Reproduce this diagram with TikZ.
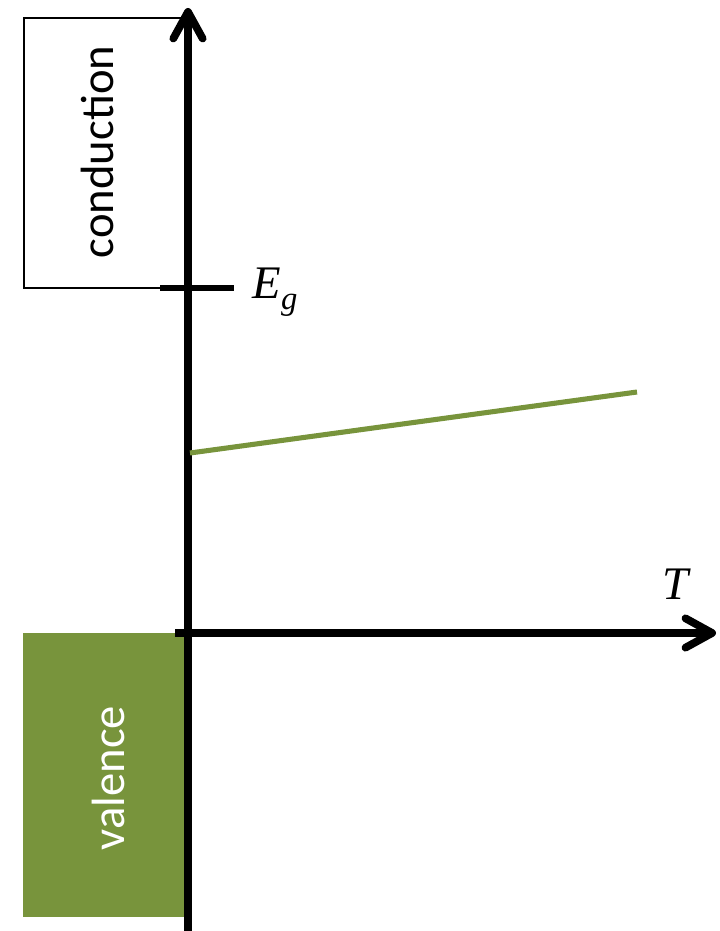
\documentclass[tikz,border=0pt]{standalone}
\usepackage{fontspec}
\setmainfont{Liberation Serif}
\setsansfont{Carlito}
\usetikzlibrary{arrows.meta}
\definecolor{bandgreen}{RGB}{120,148,60}
\tikzset{
  axis/.style={line width=5.8pt, line cap=round, -{Straight Barb[length=20pt, width=22pt, line cap=round, line join=round]}},
  bandlabel/.style={rotate=90, font=\sffamily\fontsize{35}{40}\selectfont},
  axislabel/.style={font=\itshape\fontsize{35}{40}\selectfont}
}
\begin{document}
\begin{tikzpicture}[x=0.75pt, y=-0.75pt, every node/.style={align=center}]
\useasboundingbox (0,0) rectangle (720,931);
% bands
\fill[bandgreen] (23,633) rectangle (186,917);
\draw[line width=1.1pt] (188,18) -- (24,18) -- (24,288) -- (188,288);
\node[bandlabel] at (97,152) (cond) {conduction};
\node[bandlabel, text=white] at (108,778) (val) {valence};

% axes
\coordinate (ybot) at (188,931);
\coordinate (ytip) at (188,8);
\coordinate (xleft) at (175,633);
\coordinate (xtip) at (716,633);
\draw[axis] (ybot) -- (ytip);
\draw[axis, line cap=butt] (xleft) -- (xtip);
\node[axislabel] at (675,584) (T) {T};

% gap tick
\coordinate (gl) at (160,288);
\coordinate (gr) at (234,288);
\draw[line width=3.8pt] (gl) -- (gr);
\node[axislabel, anchor=west] at (248,292) (Eg) {E\raisebox{-0.3ex}{\textsubscript{g}}};

% level
\coordinate (la) at (190,453);
\coordinate (lb) at (637,392);
\draw[bandgreen, line width=3.8pt] (la) -- (lb);
\end{tikzpicture}
\end{document}
